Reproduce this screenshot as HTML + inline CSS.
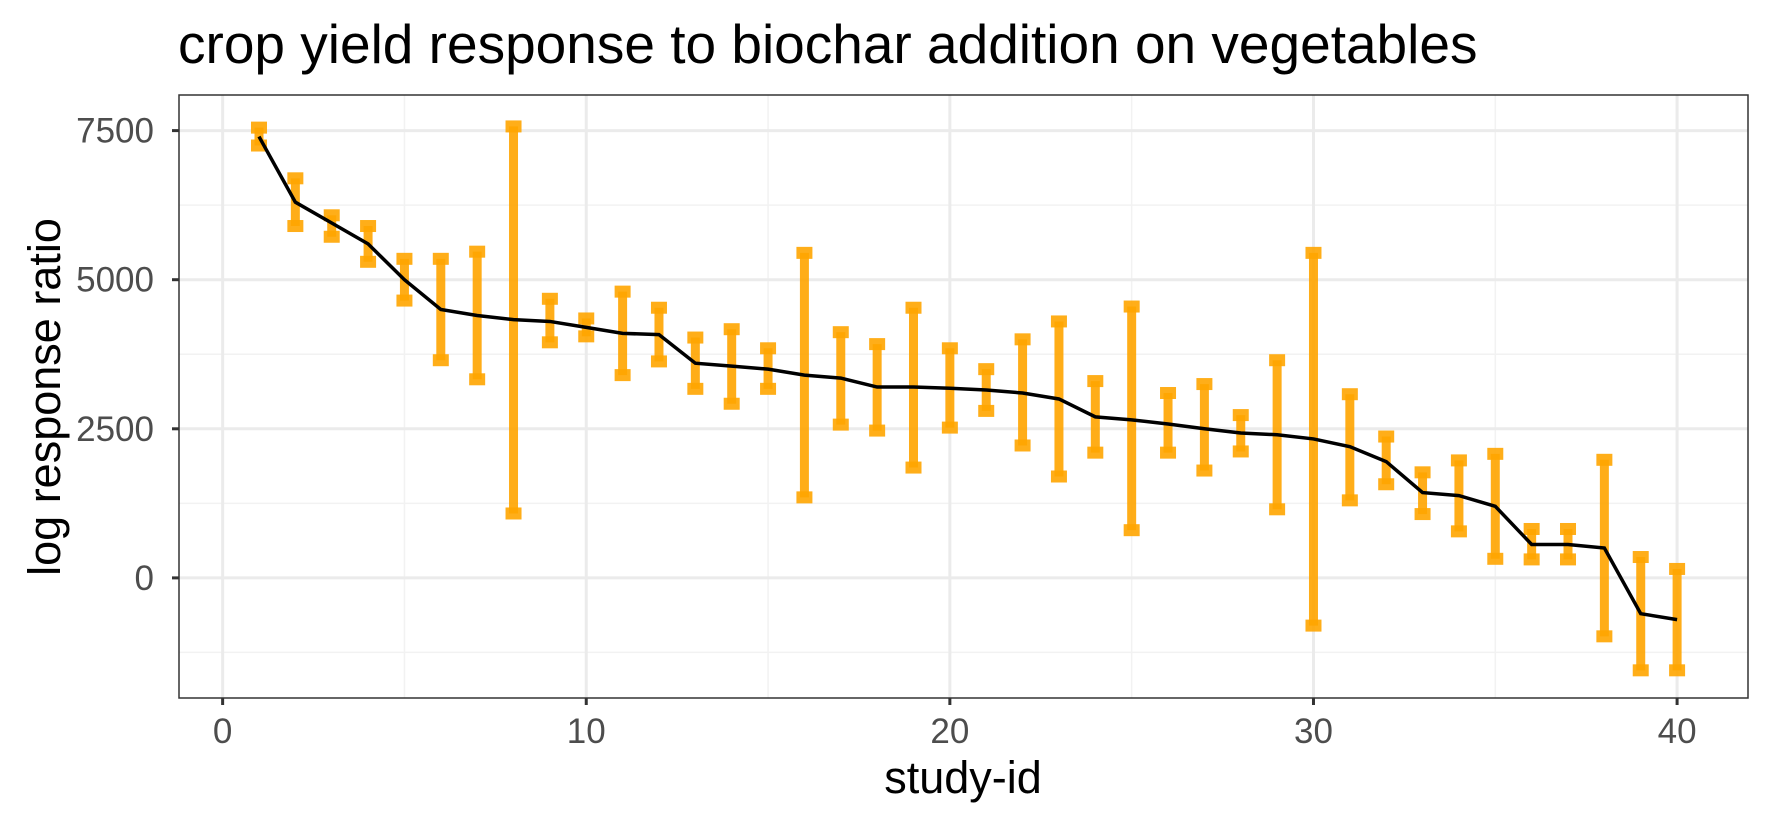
<!DOCTYPE html>
<html><head><meta charset="utf-8"><style>
html,body{margin:0;padding:0;background:#fff;}
svg{display:block;font-family:"Liberation Sans",Arial,sans-serif;}
</style></head><body>
<div style="position:relative;width:1771px;height:826px">
<svg id="chart" width="1771" height="826" viewBox="0 0 1771 826" style="position:absolute;left:0;top:0"></svg>
<svg width="1771" height="826" style="position:absolute;left:0;top:0;pointer-events:none">
<text x="178" y="63" font-size="55" fill="#000" font-family="Liberation Sans, sans-serif">crop yield response to biochar addition on vegetables</text>
<text x="963" y="793" font-size="45" text-anchor="middle" fill="#000" font-family="Liberation Sans, sans-serif">study-id</text>
<text x="0" y="0" font-size="45" text-anchor="middle" fill="#000" transform="translate(60,397) rotate(-90)" font-family="Liberation Sans, sans-serif">log response ratio</text>
</svg>
</div>
<script>
const studyIds = [1,2,3,4,5,6,7,8,9,10,11,12,13,14,15,16,17,18,19,20,21,22,23,24,25,26,27,28,29,30,31,32,33,34,35,36,37,38,39,40];
const meanValues = [7400,6300,5950,5600,5000,4500,4400,4330,4300,4200,4100,4080,3600,3550,3500,3400,3350,3200,3200,3180,3150,3100,3000,2700,2650,2580,2500,2430,2400,2330,2200,1950,1430,1380,1200,560,560,500,-600,-700];
const lowerValues = [7250,5900,5720,5300,4650,3650,3330,1080,3950,4050,3400,3630,3170,2920,3170,1350,2570,2470,1850,2520,2800,2220,1700,2100,800,2100,1800,2120,1150,-800,1300,1570,1070,780,320,310,310,-980,-1550,-1550];
const upperValues = [7550,6700,6080,5900,5350,5350,5470,7570,4680,4350,4800,4530,4030,4170,3850,5450,4120,3920,4530,3850,3500,4000,4300,3300,4550,3100,3250,2730,3650,5450,3080,2370,1770,1970,2080,820,820,1980,350,150];
const xTicks = [0,10,20,30,40];
const yTicks = [0,2500,5000,7500];
const yMinor = [-1250,1250,3750,6250];
const xMinor = [5,15,25,35];

const NS="http://www.w3.org/2000/svg";
const svg=document.getElementById('chart');
const L=179,R=1748,T=95,B=698;
const xMin=-1.2,xMax=41.95,yMin=-2014,yMax=8097;
const xs=v=>L+(v-xMin)/(xMax-xMin)*(R-L);
const ys=v=>B-(v-yMin)/(yMax-yMin)*(B-T);
function mk(tag,attrs,parent){const e=document.createElementNS(NS,tag);for(const k in attrs)e.setAttribute(k,attrs[k]);(parent||svg).appendChild(e);return e;}

const grid=mk('g',{});


yMinor.forEach(v=>mk('line',{x1:L,x2:R,y1:ys(v),y2:ys(v),stroke:'#f2f2f2','stroke-width':1.5},grid));
xMinor.forEach(v=>mk('line',{x1:xs(v),x2:xs(v),y1:T,y2:B,stroke:'#f2f2f2','stroke-width':1.5},grid));
yTicks.forEach(v=>mk('line',{x1:L,x2:R,y1:ys(v),y2:ys(v),stroke:'#ebebeb','stroke-width':3},grid));
xTicks.forEach(v=>mk('line',{x1:xs(v),x2:xs(v),y1:T,y2:B,stroke:'#ebebeb','stroke-width':3},grid));

const bars=mk('g',{});


studyIds.forEach((id,i)=>{
  const x=xs(id), yl=ys(lowerValues[i]), yh=ys(upperValues[i]);
  const g=mk('g',{},bars);
  
  
  mk('line',{x1:x,x2:x,y1:yh,y2:yl,stroke:'#ffa500','stroke-width':9,opacity:0.9},g);
  mk('rect',{x:x-8,y:yh-6,width:16,height:12,fill:'#ffa500',opacity:0.9},g);
  mk('rect',{x:x-8,y:yl-6,width:16,height:12,fill:'#ffa500',opacity:0.9},g);
});

const line=mk('polyline',{points:studyIds.map((id,i)=>xs(id)+','+ys(meanValues[i])).join(' '),fill:'none',stroke:'#000','stroke-width':3.5});



const border=mk('rect',{x:L,y:T,width:R-L,height:B-T,fill:'none',stroke:'#333','stroke-width':1.5});



xTicks.forEach(v=>{
  mk('line',{x1:xs(v),x2:xs(v),y1:B,y2:B+7,stroke:'#333','stroke-width':3});
  const t=mk('text',{x:xs(v),y:B+45,'text-anchor':'middle','font-size':35,fill:'#4d4d4d'});
  
  
  t.textContent=v;
});
yTicks.forEach(v=>{
  mk('line',{x1:L-7,x2:L,y1:ys(v),y2:ys(v),stroke:'#333','stroke-width':3});
  const t=mk('text',{x:L-25,y:ys(v)+12,'text-anchor':'end','font-size':35,fill:'#4d4d4d'});
  
  
  t.textContent=v;
});
</script>
</body></html>
